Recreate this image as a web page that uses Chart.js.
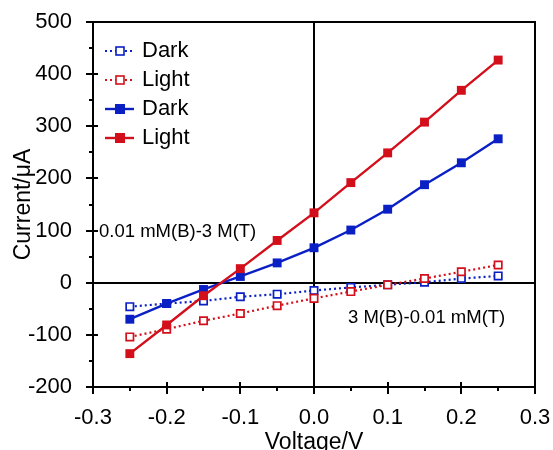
<!DOCTYPE html>
<html>
<head>
    <title>I-V curves</title>
    <script src="https://cdn.jsdelivr.net/npm/chart.js"></script>
    <style>
        body { margin: 0; background: #fff; }
        #wrap { width: 553px; height: 450px; }
    </style>
</head>
<body>
    <div id="wrap"><canvas id="ivChart" width="553" height="450"></canvas></div>

    <script>
        // voltages (V) and currents (uA)
        const voltage = [-0.25, -0.2, -0.15, -0.1, -0.05, 0, 0.05, 0.1, 0.15, 0.2, 0.25];
        const darkB3T = [-46, -40, -35, -27, -22, -15, -9, -4, 1, 8, 13];      // 3 M(B)-0.01 mM(T), dark
        const lightB3T = [-104, -89, -73, -59, -44, -30, -17, -4, 8, 21, 34];   // 3 M(B)-0.01 mM(T), light
        const darkB001 = [-70, -40, -13, 12, 38, 67, 101, 141, 188, 230, 276];  // 0.01 mM(B)-3 M(T), dark
        const lightB001 = [-136, -81, -25, 27, 81, 134, 192, 249, 308, 369, 427]; // 0.01 mM(B)-3 M(T), light
        const xTicks = [-0.3, -0.2, -0.1, 0.0, 0.1, 0.2, 0.3];
        const yTicks = [-200, -100, 0, 100, 200, 300, 400, 500];

        const BLUE = '#0a1fc4';
        const RED = '#d20f1a';
        const FONT = '"Liberation Sans", Arial, sans-serif';

        function pts(ys) {
            return voltage.map((v, i) => ({ x: v, y: ys[i] }));
        }

        const datasets = [
            { label: 'Dark', data: pts(darkB3T), borderColor: BLUE, borderWidth: 2.2, borderDash: [2, 3],
              pointStyle: 'rect', pointRadius: 5.2, pointBorderWidth: 1.7, pointBackgroundColor: '#fff', pointBorderColor: BLUE, order: 3, open: true },
            { label: 'Light', data: pts(lightB3T), borderColor: RED, borderWidth: 2.2, borderDash: [2, 3],
              pointStyle: 'rect', pointRadius: 5.2, pointBorderWidth: 1.7, pointBackgroundColor: '#fff', pointBorderColor: RED, order: 2, open: true },
            { label: 'Dark', data: pts(darkB001), borderColor: BLUE, borderWidth: 2.4,
              pointStyle: 'rect', pointRadius: 6.3, pointBorderWidth: 0, pointBackgroundColor: BLUE, pointBorderColor: BLUE, order: 1 },
            { label: 'Light', data: pts(lightB001), borderColor: RED, borderWidth: 2.4,
              pointStyle: 'rect', pointRadius: 6.3, pointBorderWidth: 0, pointBackgroundColor: RED, pointBorderColor: RED, order: 0 }
        ];

        // frame, zero lines, tick marks, titles, legend and notes
        const decor = {
            id: 'decor',
            beforeDatasetsDraw(chart) {
                const { ctx, chartArea: a, scales: { x, y } } = chart;
                ctx.save();
                ctx.strokeStyle = '#000';
                ctx.lineWidth = 2;
                ctx.beginPath();
                const x0 = Math.round(x.getPixelForValue(0));
                const y0 = Math.round(y.getPixelForValue(0));
                ctx.moveTo(x0, a.top); ctx.lineTo(x0, a.bottom);
                ctx.moveTo(a.left, y0); ctx.lineTo(a.right, y0);
                ctx.stroke();
                ctx.restore();
            },
            afterDraw(chart) {
                const { ctx, chartArea: a, scales: { x, y } } = chart;
                ctx.save();
                ctx.strokeStyle = '#000';
                ctx.lineWidth = 2;
                ctx.strokeRect(a.left, a.top, a.right - a.left, a.bottom - a.top);

                ctx.beginPath();
                for (let v = -200; v <= 500; v += 50) {
                    const py = Math.round(y.getPixelForValue(v));
                    const major = v % 100 === 0;
                    ctx.moveTo(a.left - (major ? 7 : 4), py);
                    ctx.lineTo(a.left + (major ? 5 : 0), py);
                }
                for (let i = -6; i <= 6; i++) {
                    const px = Math.round(x.getPixelForValue(i * 0.05));
                    const major = i % 2 === 0;
                    ctx.moveTo(px, a.bottom - (major ? 5 : 0));
                    ctx.lineTo(px, a.bottom + (major ? 7 : 4));
                }
                ctx.stroke();

                ctx.fillStyle = '#000';
                ctx.font = '23px ' + FONT;
                ctx.textAlign = 'center';
                ctx.textBaseline = 'alphabetic';
                ctx.fillText('Voltage/V', x.getPixelForValue(0), 449);
                ctx.save();
                ctx.translate(30, (a.top + a.bottom) / 2);
                ctx.rotate(-Math.PI / 2);
                ctx.fillText('Current/\u03bcA', 0, 0);
                ctx.restore();

                ctx.font = '18.5px ' + FONT;
                ctx.textAlign = 'left';
                ctx.fillText('0.01 mM(B)-3 M(T)', 99, 237);
                ctx.fillText('3 M(B)-0.01 mM(T)', 348, 323);

                // legend
                ctx.font = '22px ' + FONT;
                chart.data.datasets.forEach((ds, i) => {
                    const ly = 51 + i * 29;
                    ctx.strokeStyle = ds.borderColor;
                    ctx.lineWidth = ds.borderWidth;
                    ctx.setLineDash(ds.borderDash || []);
                    ctx.beginPath();
                    ctx.moveTo(105, ly); ctx.lineTo(134, ly);
                    ctx.stroke();
                    ctx.setLineDash([]);
                    if (ds.open) {
                        ctx.fillStyle = '#fff';
                        ctx.fillRect(116, ly - 4, 8, 8);
                        ctx.lineWidth = 1.6;
                        ctx.strokeRect(116, ly - 4, 8, 8);
                    } else {
                        ctx.fillStyle = ds.borderColor;
                        ctx.fillRect(115, ly - 5, 10, 10);
                    }
                    ctx.fillStyle = '#000';
                    ctx.fillText(ds.label, 142, ly + 6);
                });
                ctx.restore();
            }
        };

        new Chart(document.getElementById('ivChart'), {
            type: 'line',
            data: { datasets: datasets },
            options: {
                responsive: false,
                animation: false,
                layout: { padding: { top: 22, right: 0, left: 0, bottom: 0 } },
                plugins: { legend: { display: false }, tooltip: { enabled: false } },
                scales: {
                    x: {
                        type: 'linear', min: -0.3, max: 0.3,
                        afterBuildTicks(s) { s.ticks = xTicks.map(v => ({ value: v })); },
                        afterFit(s) { s.height = 63; s.paddingRight = 18; s.paddingLeft = 0; },
                        grid: { display: false },
                        border: { display: false },
                        ticks: {
                            color: '#000', padding: 10, maxRotation: 0,
                            font: { size: 22, family: FONT },
                            callback: v => (Math.abs(v) < 1e-9 ? 0 : v).toFixed(1)
                        }
                    },
                    y: {
                        type: 'linear', min: -200, max: 500,
                        afterBuildTicks(s) { s.ticks = yTicks.map(v => ({ value: v })); },
                        afterFit(s) { s.width = 93; s.paddingTop = 0; s.paddingBottom = 0; },
                        grid: { display: false },
                        border: { display: false },
                        ticks: {
                            color: '#000', padding: 13,
                            font: { size: 22, family: FONT }
                        }
                    }
                }
            },
            plugins: [decor]
        });
    </script>
</body>
</html>
